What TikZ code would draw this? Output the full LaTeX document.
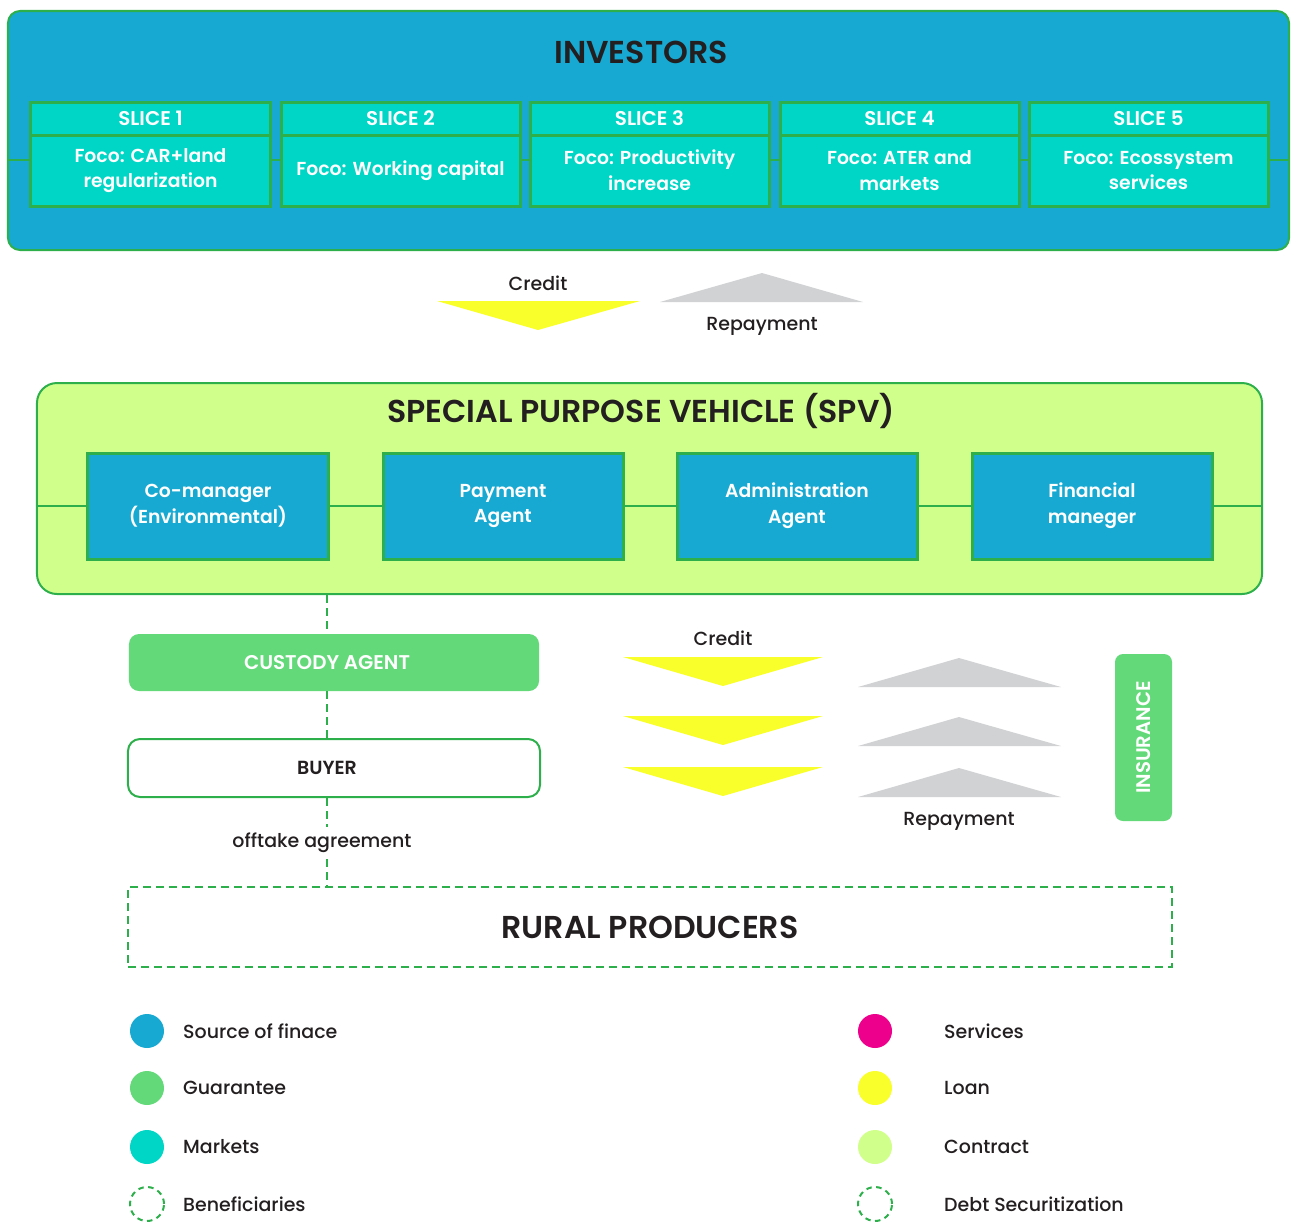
\documentclass[tikz,border=0pt]{standalone}
\usepackage{fontspec}
\setmainfont{Poppins}[UprightFont={* Medium},BoldFont={* SemiBold}]
\usetikzlibrary{positioning}
\definecolor{finblue}{HTML}{17A9D1}
\definecolor{mkteal}{HTML}{00D6C6}
\definecolor{edgegreen}{HTML}{2DB04B}
\definecolor{contract}{HTML}{D1FF8B}
\definecolor{guarantee}{HTML}{64D97A}
\definecolor{loan}{HTML}{F8FF2A}
\definecolor{repay}{HTML}{D1D2D4}
\definecolor{services}{HTML}{EC008C}
\definecolor{ink}{HTML}{231F20}
\begin{document}
\begin{tikzpicture}[
  x=0.2mm, y=-0.2mm,
  font=\fontsize{11}{13.5}\selectfont, text=ink,
  group/.style={rectangle,draw=edgegreen,line width=0.4mm},
  headline/.style={font=\fontsize{18}{20}\selectfont\bfseries},
  slicehead/.style={rectangle,draw=edgegreen,line width=0.6mm,fill=mkteal,text=white,
    font=\fontsize{11.3}{12}\selectfont\bfseries,minimum width=47.8mm,minimum height=6.6mm},
  slicebody/.style={slicehead,align=center,minimum height=14.2mm,font=\fontsize{10.7}{14.6}\selectfont\bfseries},
  agent/.style={rectangle,draw=edgegreen,line width=0.6mm,fill=finblue,text=white,align=center,
    font=\fontsize{10.7}{14.6}\selectfont\bfseries,minimum width=48mm,minimum height=21.2mm},
  link/.style={draw=edgegreen,line width=0.5mm},
  dashlink/.style={draw=edgegreen,line width=0.4mm,dash pattern=on 1.6mm off 1mm},
  tag/.style={font=\fontsize{10.8}{12}\selectfont},
  dot/.style={circle,minimum size=6.8mm,inner sep=0pt},
  ringdot/.style={dot,draw=edgegreen,line width=0.4mm,dash pattern=on 1.1mm off 0.9mm},
  boxtext/.style={font=\fontsize{11.3}{12}\selectfont\bfseries}
]
\useasboundingbox (0,0) rectangle (1291,1221);
% investors
\node[group,fill=finblue,rounded corners=2.4mm,minimum width=256.2mm,minimum height=47.8mm] (inv) at (648.5,130.5) {};
\node[headline] (invtitle) at (641,52) {INVESTORS};
\draw[link] (inv.west |- 0,160) -- (inv.east |- 0,160);
\foreach \i/\x/\txt in {1/150.5/{Foco: CAR+land\\regularization},
                        2/400.5/{Foco: Working capital},
                        3/649.5/{Foco: Productivity\\increase},
                        4/899.5/{Foco: ATER and\\markets},
                        5/1148.5/{Foco: Ecossystem\\services}} {
  \node[slicehead] (h\i) at (\x,118.5) {SLICE \i};
  \node[slicebody] (b\i) at (\x,170.5) {\txt};
}
% credit / repayment between investors and spv
\fill[loan] (437,301) -- (640,301) -- (538,330) -- cycle;
\fill[repay] (660,302) -- (863,302) -- (762,273) -- cycle;
\node[tag] (credit1) at (538,283) {Credit};
\node[tag] (repay1) at (762,326) {Repayment};
% spv
\node[group,fill=contract,rounded corners=4mm,minimum width=245mm,minimum height=42.2mm] (spv) at (649.5,488.5) {};
\node[headline] (spvtitle) at (641,411) {SPECIAL PURPOSE VEHICLE (SPV)};
\draw[link] (spv.west |- 0,506) -- (spv.east |- 0,506);
\foreach \i/\x/\txt in {1/208/{Co-manager\\(Environmental)},
                        2/503/{Payment\\Agent},
                        3/797/{Administration\\Agent},
                        4/1092/{Financial\\maneger}} {
  \node[agent] (a\i) at (\x,506) {\txt};
}
% custody, buyer, producers
\coordinate (trunk) at (327,0);
\node[rectangle,fill=guarantee,rounded corners=2mm,minimum width=82mm,minimum height=11.4mm] (cust) at (334,662.5) {};
\node[boxtext,text=white] (custlab) at (cust.center -| trunk) {CUSTODY AGENT};
\node[rectangle,draw=edgegreen,line width=0.4mm,fill=white,rounded corners=2.4mm,minimum width=82.4mm,
  minimum height=11.6mm] (buyer) at (334,768) {};
\node[boxtext,font=\fontsize{10.8}{12}\selectfont\bfseries] (buyerlab) at (buyer.center -| trunk) {BUYER};
\node[tag] (offtake) at (322,843) {offtake agreement};
\node[rectangle,dashlink,minimum width=208.8mm,minimum height=16mm,headline] (rural) at (650,927) {RURAL PRODUCERS};
\draw[dashlink] (spv.south -| trunk) -- (cust.north -| trunk);
\draw[dashlink] (cust.south -| trunk) -- (buyer.north -| trunk);
\draw[dashlink] (buyer.south -| trunk) -- (offtake.north -| trunk);
\draw[dashlink] (offtake.south -| trunk) -- (rural.north -| trunk);
% credit / repayment to producers
\foreach \y in {657,716,767}
  \fill[loan] (623,\y) -- (823,\y) -- (723,\y+29) -- cycle;
\foreach \y in {687,746,797}
  \fill[repay] (858,\y) -- (1061,\y) -- (959,\y-29) -- cycle;
\node[tag] (credit2) at (723,638) {Credit};
\node[tag] (repay2) at (959,821) {Repayment};
\node[rectangle,fill=guarantee,rounded corners=1.6mm,rotate=90,minimum width=33.4mm,minimum height=11.4mm,
  text=white,font=\fontsize{11.2}{12}\selectfont\bfseries] (insur) at (1143.5,737.5) {INSURANCE};
% legend
\foreach \c/\lab/\y [count=\k] in {finblue/Source of finace/1031, guarantee/Guarantee/1088, mkteal/Markets/1147} {
  \node[dot,fill=\c] (ld\k) at (147,\y) {};
  \node[tag,anchor=west] (ll\k) at (177,\y) {\lab};
}
\node[ringdot] (ld4) at (147,1204) {};
\node[tag,anchor=west] (ll4) at (177,1204) {Beneficiaries};
\foreach \c/\lab/\y [count=\k] in {services/Services/1031, loan/Loan/1088, contract/Contract/1147} {
  \node[dot,fill=\c] (rd\k) at (875,\y) {};
  \node[tag,anchor=west] (rl\k) at (938,\y) {\lab};
}
\node[ringdot] (rd4) at (875,1204) {};
\node[tag,anchor=west] (rl4) at (938,1204) {Debt Securitization};
\end{tikzpicture}
\end{document}
